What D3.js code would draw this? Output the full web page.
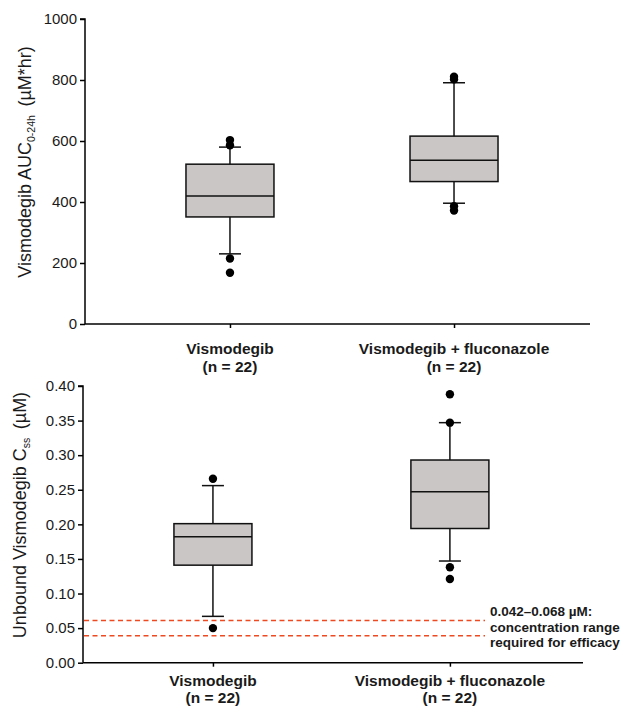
<!DOCTYPE html>
<html>
<head>
<meta charset="utf-8">
<script src="https://cdn.jsdelivr.net/npm/d3@7"></script>
<style>
  html, body { margin: 0; padding: 0; background: #fff; }
  svg { display: block; font-family: "Liberation Sans", Arial, sans-serif; }
</style>
</head>
<body>
<div id="chart"></div>
<script>
const categories = ["Vismodegib", "Vismodegib + fluconazole"];
const groupSize = "(n = 22)";

// AUC 0-24h (µM*hr)
const aucBoxes = [
  { cat: "Vismodegib", lo: 230, q1: 351, med: 420, q3: 524, hi: 580 },
  { cat: "Vismodegib + fluconazole", lo: 396, q1: 467, med: 537, q3: 616, hi: 791 }
];
const aucOutliers = [
  { cat: "Vismodegib", v: 603 }, { cat: "Vismodegib", v: 586 },
  { cat: "Vismodegib", v: 215 }, { cat: "Vismodegib", v: 168 },
  { cat: "Vismodegib + fluconazole", v: 811 }, { cat: "Vismodegib + fluconazole", v: 802 },
  { cat: "Vismodegib + fluconazole", v: 386 }, { cat: "Vismodegib + fluconazole", v: 372 }
];
const aucTicks = [0, 200, 400, 600, 800, 1000];

// unbound Css (µM)
const cssBoxes = [
  { cat: "Vismodegib", lo: 0.067, q1: 0.141, med: 0.182, q3: 0.201, hi: 0.256 },
  { cat: "Vismodegib + fluconazole", lo: 0.147, q1: 0.194, med: 0.247, q3: 0.293, hi: 0.347 }
];
const cssOutliers = [
  { cat: "Vismodegib", v: 0.266 }, { cat: "Vismodegib", v: 0.050 },
  { cat: "Vismodegib + fluconazole", v: 0.388 }, { cat: "Vismodegib + fluconazole", v: 0.347 },
  { cat: "Vismodegib + fluconazole", v: 0.138 }, { cat: "Vismodegib + fluconazole", v: 0.121 }
];
const cssTicks = [0, 0.05, 0.10, 0.15, 0.20, 0.25, 0.30, 0.35, 0.40];
const efficacyLines = [0.061, 0.039];
const efficacyNote = ["0.042\u20130.068 \u00B5M:", "concentration range", "required for efficacy"];

const width = 627, height = 710;
const svg = d3.select("#chart").append("svg")
  .attr("width", width).attr("height", height);

function drawPanel(opts) {
  const y = d3.scaleLinear().domain(opts.domain).range([opts.bottom, opts.top]);
  const x = d3.scalePoint().domain(categories)
    .range([opts.left, opts.right]).padding(opts.pad).align(opts.align);

  const g = svg.append("g");

  // y axis
  g.append("g")
    .attr("transform", `translate(${opts.left},0)`)
    .call(d3.axisLeft(y).tickValues(opts.ticks).tickFormat(opts.fmt).tickSize(5).tickPadding(3))
    .call(s => s.select(".domain").attr("stroke", "#000").attr("stroke-width", 1.5).attr("d", `M-5,${y(opts.domain[1])}H0V${opts.bottom}`))
    .call(s => s.selectAll(".tick line").attr("stroke-width", 1.5))
    .call(s => s.selectAll(".tick text").attr("font-size", 15).attr("fill", "#1a1a1a")
      .attr("font-family", "Liberation Sans, Arial, sans-serif"));

  // x axis
  g.append("g")
    .attr("transform", `translate(0,${opts.bottom})`)
    .call(d3.axisBottom(x).tickSize(4).tickFormat(""))
    .call(s => s.select(".domain").attr("stroke-width", 1.5).attr("d", `M${opts.left},0H${opts.right}`))
    .call(s => s.selectAll(".tick line").attr("stroke-width", 1.5));

  // category labels
  const lab = g.selectAll("text.cat").data(categories).join("text")
    .attr("class", "cat")
    .attr("x", d => x(d))
    .attr("y", opts.bottom + opts.labelDy)
    .attr("text-anchor", "middle")
    .attr("font-size", 15.5).attr("font-weight", 700).attr("fill", "#1a1a1a");
  lab.append("tspan").attr("x", d => x(d)).text(d => d);
  lab.append("tspan").attr("x", d => x(d)).attr("dy", opts.labelGap).text(groupSize);

  if (opts.extra) opts.extra(g, x, y);

  // whiskers
  const bw = opts.boxW, cw = 22;
  g.selectAll("line.whisk").data(opts.boxes).join("line")
    .attr("x1", d => x(d.cat)).attr("x2", d => x(d.cat))
    .attr("y1", d => y(d.lo)).attr("y2", d => y(d.hi))
    .attr("stroke", "#111").attr("stroke-width", 1.5);
  g.selectAll("line.capHi").data(opts.boxes).join("line")
    .attr("x1", d => x(d.cat) - cw / 2).attr("x2", d => x(d.cat) + cw / 2)
    .attr("y1", d => y(d.hi)).attr("y2", d => y(d.hi))
    .attr("stroke", "#111").attr("stroke-width", 1.5);
  g.selectAll("line.capLo").data(opts.boxes).join("line")
    .attr("x1", d => x(d.cat) - cw / 2).attr("x2", d => x(d.cat) + cw / 2)
    .attr("y1", d => y(d.lo)).attr("y2", d => y(d.lo))
    .attr("stroke", "#111").attr("stroke-width", 1.5);

  // boxes
  g.selectAll("rect.box").data(opts.boxes).join("rect")
    .attr("x", d => x(d.cat) - bw / 2).attr("width", bw)
    .attr("y", d => y(d.q3)).attr("height", d => y(d.q1) - y(d.q3))
    .attr("fill", "#c9c6c5").attr("stroke", "#111").attr("stroke-width", 1.5);
  g.selectAll("line.med").data(opts.boxes).join("line")
    .attr("x1", d => x(d.cat) - bw / 2).attr("x2", d => x(d.cat) + bw / 2)
    .attr("y1", d => y(d.med)).attr("y2", d => y(d.med))
    .attr("stroke", "#111").attr("stroke-width", 1.5);

  // outliers
  g.selectAll("circle.out").data(opts.outliers).join("circle")
    .attr("cx", d => x(d.cat)).attr("cy", d => y(d.v)).attr("r", 4.2)
    .attr("fill", "#000");

  // y title
  const t = g.append("text")
    .attr("transform", `translate(${opts.titleX},${opts.titleY}) rotate(-90)`)
    .attr("text-anchor", "middle").attr("font-size", 18).attr("fill", "#1a1a1a");
  opts.title.forEach(p => {
    const ts = t.append("tspan").text(p.t);
    if (p.sub) ts.attr("font-size", 10.5).attr("dy", 4);
    if (p.after) ts.attr("dy", -4);
  });
}

drawPanel({
  domain: [0, 1000], ticks: aucTicks, fmt: d3.format("d"),
  top: 19, bottom: 324, left: 85, right: 590, pad: 0.627, align: 0.516,
  boxes: aucBoxes, outliers: aucOutliers, boxW: 88,
  labelDy: 30, labelGap: 18,
  titleX: 31, titleY: 162,
  title: [{ t: "Vismodegib AUC" }, { t: "0-24h", sub: true }, { t: "\u2009 (\u00B5M*hr)", after: true }]
});

drawPanel({
  domain: [0, 0.4], ticks: cssTicks, fmt: d3.format(".2f"),
  top: 386, bottom: 662.7, left: 83, right: 583, pad: 0.555, align: 0.494,
  boxes: cssBoxes, outliers: cssOutliers, boxW: 78,
  labelDy: 23.5, labelGap: 17,
  titleX: 26, titleY: 515,
  title: [{ t: "Unbound Vismodegib C" }, { t: "ss", sub: true }, { t: "\u2009 (\u00B5M)", after: true }],
  extra: (g, x, y) => {
    g.selectAll("line.eff").data(efficacyLines).join("line")
      .attr("x1", 84).attr("x2", 485)
      .attr("y1", d => y(d)).attr("y2", d => y(d))
      .attr("stroke", "#ee4a22").attr("stroke-width", 1.6)
      .attr("stroke-dasharray", "5,3.5");
    g.append("text")
      .attr("x", 490).attr("y", 616)
      .attr("font-size", 13.5).attr("font-weight", 700).attr("fill", "#1a1a1a")
      .selectAll("tspan").data(efficacyNote).join("tspan")
      .attr("x", 490).attr("dy", (d, i) => i ? 15.6 : 0)
      .text(d => d);
  }
});
</script>
</body>
</html>
